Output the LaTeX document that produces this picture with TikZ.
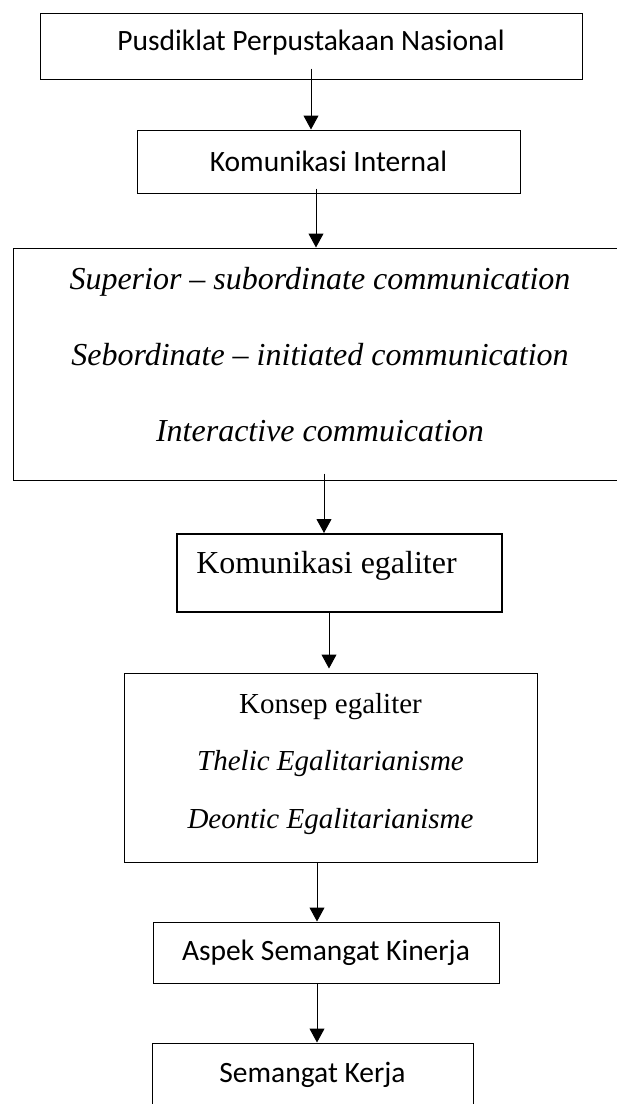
\documentclass[tikz,border=0pt]{standalone}
\usepackage{fontspec}
\setmainfont{Liberation Serif}
\newfontfamily\calibri{Carlito}
\usetikzlibrary{arrows.meta}
\begin{document}
\begin{tikzpicture}[x=1pt,y=-1pt,
			kotak/.style={draw=black, line width=1pt},
			teksa/.style={font=\calibri\fontsize{29.5pt}{34pt}\selectfont},
			panah/.style={line width=1pt, -{Triangle[length=14pt,width=15pt]}}]
			\tikzstyle{every node}+=[inner sep=0pt]
			\useasboundingbox (0,0) rectangle (617,1104);
			\node [kotak, teksa, minimum width=542pt, minimum height=66pt] (pusdiklat) at (311,46) {Pusdiklat Perpustakaan Nasional\rule[-12pt]{0pt}{0pt}};
			\node [kotak, teksa, minimum width=383pt, minimum height=63pt] (internal) at (328.5,161.5) {Komunikasi Internal};
			\node [kotak, minimum width=614pt, minimum height=232pt, align=center, font=\fontsize{32pt}{76pt}\selectfont\itshape] (bentuk) at (320,364) {Superior -- subordinate communication\\Sebordinate -- initiated communication\\Interactive commuication\rule[-19pt]{0pt}{0pt}};
			\node [kotak, line width=2pt, minimum width=325pt, minimum height=78pt, font=\fontsize{32pt}{38pt}\selectfont] (egaliter) at (339.5,573) {Komunikasi egaliter\hspace{26pt}\rule[-21pt]{0pt}{0pt}};
			\node [kotak, minimum width=413pt, minimum height=189pt, align=center, font=\fontsize{29pt}{57.5pt}\selectfont] (konsep) at (330.5,767.5) {Konsep egaliter\\\textit{Thelic Egalitarianisme}\\\textit{Deontic Egalitarianisme}\rule[-14pt]{0pt}{0pt}};
			\node [kotak, teksa, minimum width=346pt, minimum height=61pt] (aspek) at (326,952.5) {Aspek Semangat Kinerja};
			\node [kotak, teksa, minimum width=321pt, minimum height=63pt] (semangat) at (312.5,1074.5) {Semangat Kerja};
			\draw [panah] ([yshift=11pt]pusdiklat.south) -- (pusdiklat.south |- internal.north);
			\draw [panah] ([xshift=-12.5pt,yshift=5pt]internal.south) -- ([xshift=-12.5pt]internal.south |- bentuk.north);
			\draw [panah] ([xshift=4pt,yshift=7pt]bentuk.south) -- ([xshift=4pt]bentuk.south |- egaliter.north);
			\draw [panah] ([xshift=-10.5pt]egaliter.south) -- ([xshift=-10.5pt,yshift=4pt]egaliter.south |- konsep.north);
			\draw [panah] ([xshift=-13.5pt]konsep.south) -- ([xshift=-13.5pt]konsep.south |- aspek.north);
			\draw [panah] ([xshift=-9pt]aspek.south) -- ([xshift=-9pt]aspek.south |- semangat.north);
		\end{tikzpicture}
\end{document}
